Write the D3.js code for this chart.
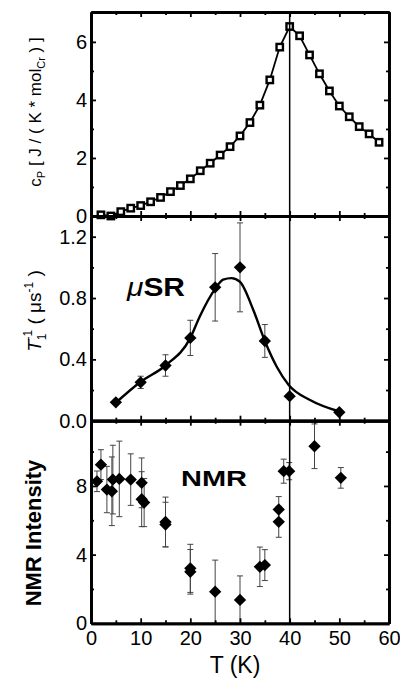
<!DOCTYPE html>
<html>
<head>
<meta charset="utf-8">
<script src="https://cdn.jsdelivr.net/npm/d3@7"></script>
<style>
body { margin: 0; background: #fff; }
svg text { font-family: "Liberation Sans", Arial, sans-serif; fill: #000; }
</style>
</head>
<body>
<svg id="chart" width="400" height="679"></svg>
<script>
// specific heat (open squares)
var cp_T   = [2, 4, 6, 8, 10, 12, 14, 16, 18, 20, 22, 24, 26, 28, 30, 32, 34, 36, 38, 40, 42, 44, 46, 48, 50, 52, 54, 56, 58];
var cp_val = [0.04, 0.0, 0.15, 0.27, 0.36, 0.49, 0.64, 0.84, 1.05, 1.28, 1.56, 1.82, 2.10, 2.39, 2.76, 3.22, 3.82, 4.69, 5.82, 6.53, 6.21, 5.55, 4.90, 4.31, 3.79, 3.42, 3.08, 2.83, 2.54];

// muSR relaxation rate
var mu_T   = [5, 10, 15, 20, 25, 30, 35, 40, 50];
var mu_val = [0.12, 0.25, 0.36, 0.54, 0.87, 1.00, 0.52, 0.16, 0.055];
var mu_err = [0, 0.04, 0.07, 0.115, 0.22, 0.29, 0.107, 0, 0];

// guide curve through muSR points
var fit_T   = [5, 10, 15, 20, 21.9, 25, 26.6, 28.3, 30, 32.7, 35, 37.4, 39.8, 44.1, 50];
var fit_val = [0.117, 0.254, 0.36, 0.54, 0.68, 0.86, 0.92, 0.93, 0.905, 0.72, 0.52, 0.352, 0.233, 0.135, 0.06];

// NMR intensity
var nmr_T   = [1.2, 2.0, 3.2, 4.2, 4.4, 5.7, 8.0, 10.2, 10.2, 10.7, 15, 15, 20, 20, 25, 30, 34, 35, 37.8, 37.8, 38.8, 39.9, 45, 50.3];
var nmr_val = [8.27, 9.24, 7.79, 7.69, 8.37, 8.41, 8.37, 8.18, 7.23, 7.03, 5.9, 5.75, 3.2, 3.0, 1.84, 1.36, 3.29, 3.39, 6.63, 5.91, 8.86, 8.86, 10.31, 8.47];
var nmr_err = [0.6, 0.87, 1.35, 2.0, 2.0, 2.2, 1.5, 1.45, 1.6, 1.4, 1.45, 1.3, 1.4, 1.3, 1.84, 1.4, 1.15, 0.9, 0.75, 0.9, 0.7, 0.5, 1.3, 0.6];

var x_major = [0, 10, 20, 30, 40, 50, 60];
var x_minor = [5, 15, 25, 35, 45, 55];
var T_c = 40;

var left = 91, right = 389;
var svg = d3.select("#chart");

var x = d3.scaleLinear().domain([0, 60]).range([left, right]);

var y_cp  = d3.scaleLinear().domain([0, 7.03]).range([216, 12]);
var y_mu  = d3.scaleLinear().domain([0, 1.335]).range([420.7, 216]);
var y_nmr = d3.scaleLinear().domain([0, 11.8]).range([623.3, 420.7]);

function zip(a, b, c)
{
    var out = [];
    for (let i = 0; i < a.length; i++) {
        out.push({t: a[i], v: b[i], e: c ? c[i] : 0});
    }
    return out;
}

function frame_axes(y, y_major, y_minor, y_fmt, x_labels)
{
    var g = svg.append("g");
    var y0 = y.range()[0], y1 = y.range()[1];

    // ticks point inward on all four sides
    var axes = [
        [d3.axisBottom(x).tickValues(x_major).tickSize(-5), d3.axisBottom(x).tickValues(x_minor).tickSize(-3), "translate(0," + y0 + ")"],
        [d3.axisTop(x).tickValues(x_major).tickSize(-5), d3.axisTop(x).tickValues(x_minor).tickSize(-3), "translate(0," + y1 + ")"],
        [d3.axisLeft(y).tickValues(y_major).tickSize(-5), d3.axisLeft(y).tickValues(y_minor).tickSize(-3), "translate(" + left + ",0)"],
        [d3.axisRight(y).tickValues(y_major).tickSize(-5), d3.axisRight(y).tickValues(y_minor).tickSize(-3), "translate(" + right + ",0)"]
    ];
    axes.forEach(function (a, i) {
        var maj = a[0].tickSizeOuter(0);
        if (i == 2) maj.tickFormat(y_fmt).tickPadding(4);
        else if (i == 0 && x_labels) maj.tickFormat(d3.format("d")).tickPadding(8);
        else maj.tickFormat("");
        g.append("g").attr("transform", a[2]).call(maj);
        g.append("g").attr("transform", a[2]).call(a[1].tickSizeOuter(0).tickFormat(""));
    });
    g.selectAll(".domain").attr("stroke", "#000").attr("stroke-width", 2.8);
    g.selectAll(".tick line").attr("stroke", "#000").attr("stroke-width", 1.8);
    g.selectAll(".tick text").attr("font-size", 20).attr("fill", "#000")
        .style("font-family", "'Liberation Sans', Arial, sans-serif");
    return g;
}

function error_bars(data, y, cls)
{
    var g = svg.append("g").attr("class", cls);
    var bars = data.filter(function (d) { return d.e > 0; });
    g.selectAll("line.bar").data(bars).enter().append("line")
        .attr("x1", function (d) { return x(d.t); })
        .attr("x2", function (d) { return x(d.t); })
        .attr("y1", function (d) { return y(Math.max(0, d.v - d.e)); })
        .attr("y2", function (d) { return y(d.v + d.e); })
        .attr("stroke", "#444").attr("stroke-width", 1);
    [-1, 1].forEach(function (s) {
        g.selectAll("line.cap" + s).data(bars.filter(function (d) { return d.v + s * d.e > 0; }))
            .enter().append("line")
            .attr("x1", function (d) { return x(d.t) - 3; })
            .attr("x2", function (d) { return x(d.t) + 3; })
            .attr("y1", function (d) { return y(d.v + s * d.e); })
            .attr("y2", function (d) { return y(d.v + s * d.e); })
            .attr("stroke", "#444").attr("stroke-width", 1);
    });
}

function diamonds(data, y)
{
    var sym = d3.symbol().type(d3.symbolSquare).size(76);
    svg.append("g").selectAll("path").data(data).enter().append("path")
        .attr("d", sym)
        .attr("transform", function (d) { return "translate(" + x(d.t) + "," + y(d.v) + ") rotate(45)"; })
        .attr("fill", "#000");
}

// ---- top panel: specific heat
var cp_data = zip(cp_T, cp_val);
svg.append("path")
    .datum(cp_data)
    .attr("fill", "none").attr("stroke", "#000").attr("stroke-width", 1.8)
    .attr("d", d3.line().x(function (d) { return x(d.t); }).y(function (d) { return y_cp(d.v); }));
svg.append("g").selectAll("rect").data(cp_data).enter().append("rect")
    .attr("x", function (d) { return x(d.t) - 3.2; })
    .attr("y", function (d) { return y_cp(d.v) - 3.2; })
    .attr("width", 6.4).attr("height", 6.4)
    .attr("fill", "#fff").attr("stroke", "#000").attr("stroke-width", 2.4);

// ---- middle panel: muSR
var mu_data = zip(mu_T, mu_val, mu_err);
error_bars(mu_data, y_mu, "mu-err");
svg.append("path")
    .datum(zip(fit_T, fit_val))
    .attr("fill", "none").attr("stroke", "#000").attr("stroke-width", 2.4)
    .attr("d", d3.line().curve(d3.curveMonotoneX)
        .x(function (d) { return x(d.t); }).y(function (d) { return y_mu(d.v); }));
diamonds(mu_data, y_mu);

// ---- bottom panel: NMR
var nmr_data = zip(nmr_T, nmr_val, nmr_err);
error_bars(nmr_data, y_nmr, "nmr-err");
diamonds(nmr_data, y_nmr);

// frames and ticks
frame_axes(y_cp, [0, 2, 4, 6], [1, 3, 5], d3.format("d"), false);
frame_axes(y_mu, [0, 0.4, 0.8, 1.2], [0.2, 0.6, 1.0], d3.format(".1f"), false);
frame_axes(y_nmr, [0, 4, 8], [2, 6, 10], d3.format("d"), true);

// transition line
svg.append("line")
    .attr("x1", x(T_c)).attr("x2", x(T_c))
    .attr("y1", y_cp.range()[1]).attr("y2", y_nmr.range()[0])
    .attr("stroke", "#000").attr("stroke-width", 1.5);

// ---- labels
var t1 = svg.append("text").attr("transform", "translate(41,112) rotate(-90)")
    .attr("text-anchor", "middle").attr("font-size", 17);
t1.append("tspan").text("c");
t1.append("tspan").attr("font-size", 11).attr("dy", 4).text("P");
t1.append("tspan").attr("dy", -4).text(" [ J / ( K * mol");
t1.append("tspan").attr("font-size", 11).attr("dy", 4).text("Cr");
t1.append("tspan").attr("dy", -4).text(" ) ]");

var t2 = svg.append("text").attr("transform", "translate(41,311) rotate(-90)")
    .attr("text-anchor", "middle").attr("font-size", 19);
t2.append("tspan").attr("font-style", "italic").text("T");
t2.append("tspan").attr("font-size", 12).attr("dy", 5).text("1");
t2.append("tspan").attr("font-size", 12).attr("dx", -7).attr("dy", -14).text("-1");
t2.append("tspan").attr("dy", 9).text("  ( \u03bcs");
t2.append("tspan").attr("font-size", 12).attr("dy", -8).text("-1");
t2.append("tspan").attr("dy", 8).text(" )");

svg.append("text").attr("transform", "translate(41,533) rotate(-90)")
    .attr("text-anchor", "middle").attr("font-size", 22).attr("font-weight", "bold")
    .text("NMR Intensity");

svg.append("text").attr("x", 235).attr("y", 673)
    .attr("text-anchor", "middle").attr("font-size", 23).text("T (K)");

svg.append("text").attr("x", 127).attr("y", 296).attr("font-size", 25)
    .attr("textLength", 58).attr("lengthAdjust", "spacingAndGlyphs")
    .html("<tspan font-style='italic'>\u03bc</tspan><tspan font-weight='bold'>SR</tspan>");

svg.append("text").attr("x", 181).attr("y", 486)
    .attr("font-size", 22).attr("font-weight", "bold")
    .attr("textLength", 66).attr("lengthAdjust", "spacingAndGlyphs")
    .text("NMR");
</script>
</body>
</html>
